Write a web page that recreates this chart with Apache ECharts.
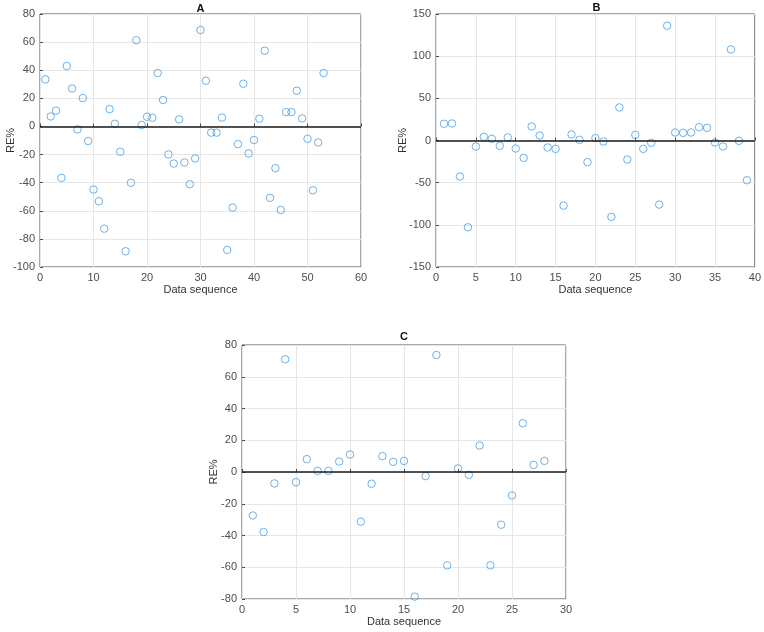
<!DOCTYPE html>
<html>
<head>
<meta charset="utf-8">
<script src="https://cdn.jsdelivr.net/npm/echarts@6/dist/echarts.min.js"></script>
<style>html,body{margin:0;padding:0;background:#fff}#c{width:764px;height:632px}</style>
</head>
<body>
<div id="c"></div>
<script>
// Panel A: RE% by data sequence 1..53
const valuesA = [33.5, 7.1, 11.2, -36.6, 43, 27, -2.1, 20.2, -10.4, -44.9,
  -53.2, -72.7, 12.3, 1.9, -18, -88.8, -40.1, 61.3, 1, 6.9,
  6.2, 38, 18.8, -19.9, -26.4, 5, -25.6, -41.1, -22.8, 68.6,
  32.5, -4.4, -4.4, 6.3, -87.9, -57.7, -12.6, 30.4, -19.2, -9.7,
  5.5, 53.9, -50.8, -29.7, -59.4, 10.2, 10.2, 25.4, 5.7, -8.8,
  -45.4, -11.4, 38];
// Panel B: 1..39
const valuesB = [19.8, 20.2, -42.7, -102.9, -7.1, 4.4, 2, -6.3, 3.6, -9.5,
  -20.6, 16.6, 5.9, -8.3, -9.9, -77.2, 7.1, 0.8, -25.7, 2.8,
  -1.2, -90.6, 39.2, -22.6, 6.7, -9.9, -2.8, -76, 136.1, 9.5,
  9.1, 9.5, 15.8, 15, -2.4, -7.1, 108, -0.4, -47.1];
// Panel C: 1..28
const valuesC = [-27.4, -37.8, -7.2, 71, -6.4, 8.1, 0.7, 0.7, 6.6, 11,
  -31.3, -7.4, 10, 6.4, 7, -78.5, -2.6, 73.7, -58.8, 2.2,
  -1.8, 16.7, -58.8, -33.2, -14.8, 30.7, 4.5, 7];
const panelTitles = ['A', 'B', 'C'];
const xLabel = 'Data sequence';
const yLabel = 'RE%';

const FONT = '"Liberation Sans", Arial, sans-serif';
const grids = [
  {left: 40, top: 14, width: 321, height: 253},
  {left: 436, top: 14, width: 321, height: 253},
  {left: 242, top: 345, width: 324, height: 254}
];
const titleTops = [3, 2, 331];
const yNameGaps = [24, 28, 23];
const xr = [{min: 0, max: 60, interval: 10}, {min: 0, max: 40, interval: 5}, {min: 0, max: 30, interval: 5}];
const yr = [{min: -100, max: 80, interval: 20}, {min: -150, max: 150, interval: 50}, {min: -80, max: 80, interval: 20}];
const all = [valuesA, valuesB, valuesC];

const labelStyle = {color: '#4d4d4d', fontSize: 11, fontFamily: FONT};
function axisCommon() {
  return {
    axisLine: {show: false},
    axisTick: {show: true, inside: true, length: 3, lineStyle: {color: '#4d4d4d'}},
    axisLabel: Object.assign({margin: 5}, labelStyle),
    splitLine: {show: true, lineStyle: {color: '#e6e6e6', width: 1}},
    nameMoveOverlap: false,
    nameTextStyle: {color: '#333', fontSize: 11, fontFamily: FONT}
  };
}

const option = {
  animation: false,
  backgroundColor: '#fff',
  title: panelTitles.map((t, i) => ({
    text: t,
    left: grids[i].left + grids[i].width / 2,
    top: titleTops[i],
    padding: 0,
    textAlign: 'center',
    textStyle: {fontSize: 11, fontWeight: 'bold', color: '#111', fontFamily: FONT}
  })),
  grid: grids.map(g => Object.assign({show: true, borderColor: '#555', borderWidth: 1, backgroundColor: 'transparent'}, g)),
  xAxis: xr.map((r, i) => Object.assign(axisCommon(), {
    type: 'value', gridIndex: i, min: r.min, max: r.max, interval: r.interval,
    name: xLabel, nameLocation: 'middle', nameGap: 17
  })),
  yAxis: yr.map((r, i) => Object.assign(axisCommon(), {
    type: 'value', gridIndex: i, min: r.min, max: r.max, interval: r.interval,
    name: yLabel, nameLocation: 'middle', nameGap: yNameGaps[i], nameRotate: 90
  })),
  series: all.map((vals, i) => ({
    type: 'scatter',
    xAxisIndex: i, yAxisIndex: i,
    symbol: 'circle', symbolSize: 7.5,
    itemStyle: {color: 'rgba(0,0,0,0)', borderColor: '#4a9fe0', borderWidth: 1},
    data: vals.map((v, k) => [k + 1, v]),
    markLine: {
      silent: true, symbol: 'none', label: {show: false},
      lineStyle: {color: '#1a1a1a', width: 1.5, type: 'solid'},
      data: [{yAxis: 0}]
    }
  }))
};
echarts.init(document.getElementById('c')).setOption(option);
</script>
</body>
</html>
